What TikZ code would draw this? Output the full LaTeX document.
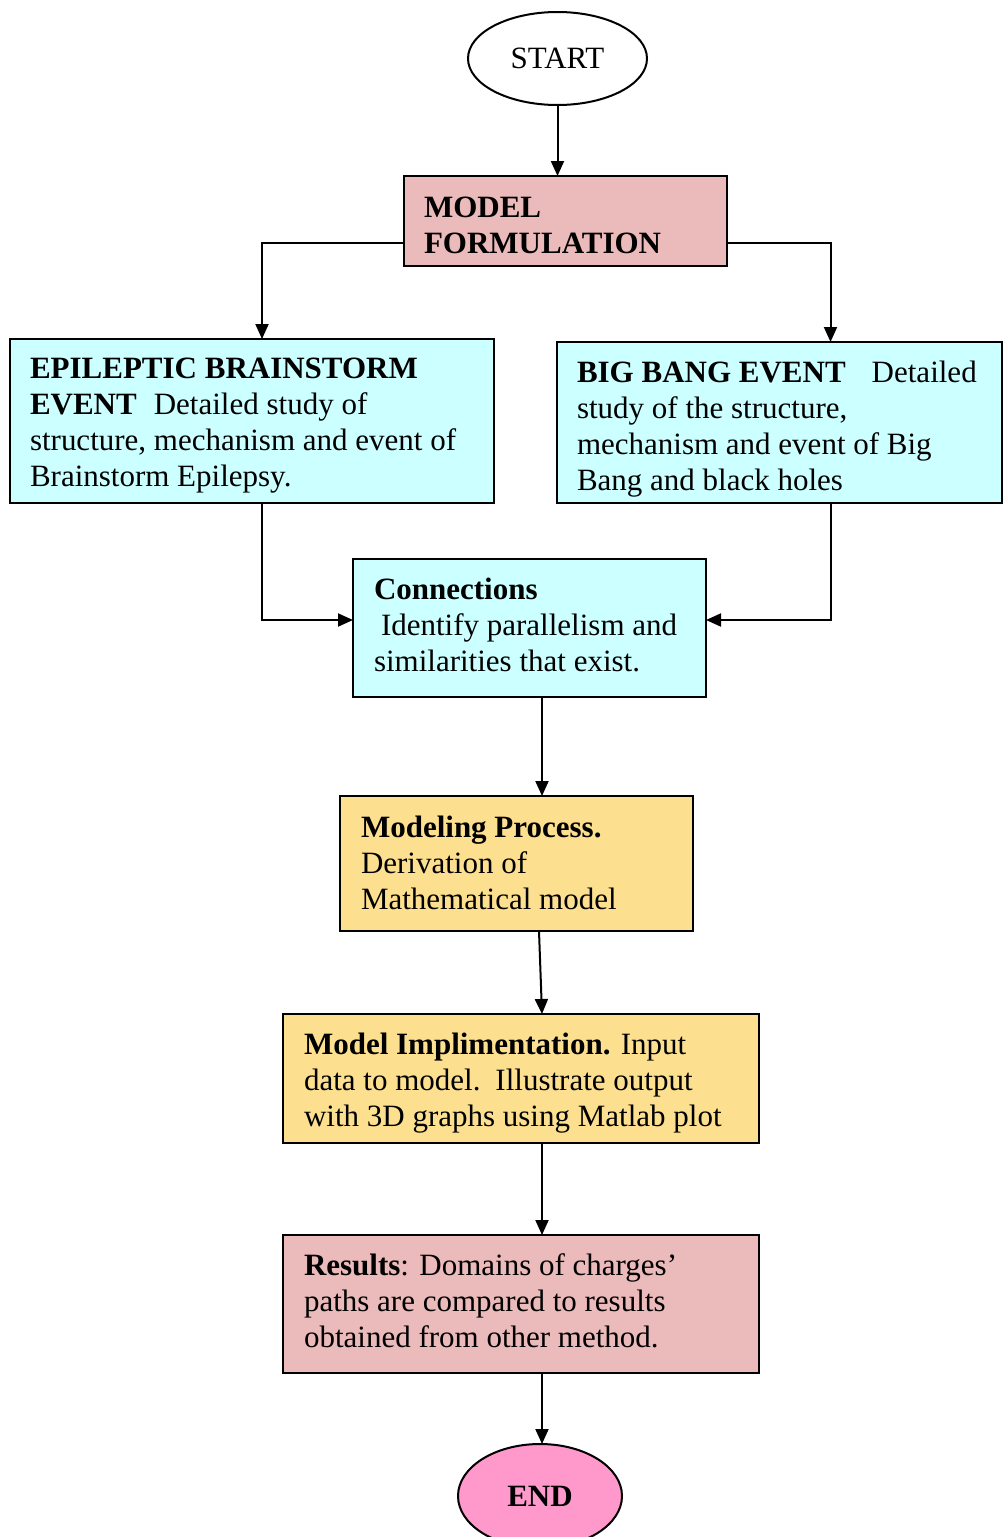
\documentclass[tikz,border=0pt]{standalone}
\usepackage{fontspec}
\setmainfont{Liberation Serif}
\usetikzlibrary{arrows.meta,shapes.geometric}
\definecolor{boxpink}{HTML}{EBBABA}
\definecolor{boxcyan}{HTML}{CCFFFF}
\definecolor{boxyellow}{HTML}{FDE08F}
\definecolor{endpink}{HTML}{FF99CC}
\begin{document}
\begin{tikzpicture}[x=1pt,y=-1pt,
  box/.style={draw=black, line width=2pt, rectangle, inner sep=0pt, outer sep=0pt, anchor=north west},
  oval/.style={draw=black, line width=2pt, ellipse, inner sep=0pt, outer sep=0pt},
  txt/.style={anchor=base west, inner sep=0pt, outer sep=0pt, align=left, font=\fontsize{31}{35.7}\selectfont},
  arr/.style={line width=2pt, -{Triangle[length=15pt,width=13pt]}}]
\useasboundingbox (0,0) rectangle (1004,1537);
\fill[white] (0,0) rectangle (1004,1537);

% shapes
\node[oval, minimum width=179pt, minimum height=93pt, font=\fontsize{31}{35.7}\selectfont] (start) at (557.5,58.5) {START};
\node[box, fill=boxpink, minimum width=323pt, minimum height=90pt] (mf) at (404,176) {};
\node[box, fill=boxcyan, minimum width=484pt, minimum height=164pt] (epi) at (10,339) {};
\node[box, fill=boxcyan, minimum width=445pt, minimum height=161pt] (bb) at (557,342) {};
\node[box, fill=boxcyan, minimum width=353pt, minimum height=138pt] (cn) at (353,559) {};
\node[box, fill=boxyellow, minimum width=353pt, minimum height=135pt] (mp) at (340,796) {};
\node[box, fill=boxyellow, minimum width=476pt, minimum height=129pt] (mi) at (283,1014) {};
\node[box, fill=boxpink, minimum width=476pt, minimum height=138pt] (res) at (283,1235) {};
\node[oval, fill=endpink, minimum width=164pt, minimum height=104pt, font=\fontsize{31}{35.7}\selectfont\bfseries] (endn) at (540,1496) {END};

% texts (anchor = baseline of the last line)
\node[txt] (tmf) at (424,253) {\textbf{MODEL}\\\textbf{FORMULATION}};
\node[txt] (tepi) at (30,486) {\textbf{EPILEPTIC BRAINSTORM}\\\textbf{EVENT}\hspace{17pt}Detailed study of\\structure, mechanism and event of\\Brainstorm Epilepsy.};
\node[txt] (tbb) at (577,490) {\textbf{BIG BANG EVENT}\hspace{26pt}Detailed\\study of the structure,\\mechanism and event of Big\\Bang and black holes};
\node[txt] (tcn) at (374,671) {\textbf{Connections}\\\hspace*{7pt}Identify parallelism and\\similarities that exist.};
\node[txt] (tmp) at (361,909) {\textbf{Modeling Process.}\\Derivation of\\Mathematical model};
\node[txt] (tmi) at (304,1126) {\textbf{Model Implimentation.} Input\\data to model.\hspace{15pt}Illustrate output\\with 3D graphs using Matlab plot};
\node[txt] (tres) at (304,1347) {\textbf{Results}: Domains of charges’\\paths are compared to results\\obtained from other method.};

% connectors
\draw[arr] (start.south) -- (start.south |- mf.north);
\draw[arr] ([yshift=-22pt]mf.west) -| ([xshift=10pt]epi.north);
\draw[arr] ([yshift=-22pt]mf.east) -| ([xshift=51pt]bb.north);
\draw[arr] ([xshift=10pt]epi.south) |- ([yshift=8pt]cn.west);
\draw[arr] ([xshift=51pt]bb.south) |- ([yshift=8pt]cn.east);
\draw[arr] ([xshift=12.5pt]cn.south) -- ([xshift=25.5pt]mp.north);
\draw[arr] ([xshift=22.5pt]mp.south) -- ([xshift=21pt]mi.north);
\draw[arr] ([xshift=21pt]mi.south) -- ([xshift=21pt]res.north);
\draw[arr] ([xshift=21pt]res.south) -- ([xshift=2pt]endn.north);
\end{tikzpicture}
\end{document}
